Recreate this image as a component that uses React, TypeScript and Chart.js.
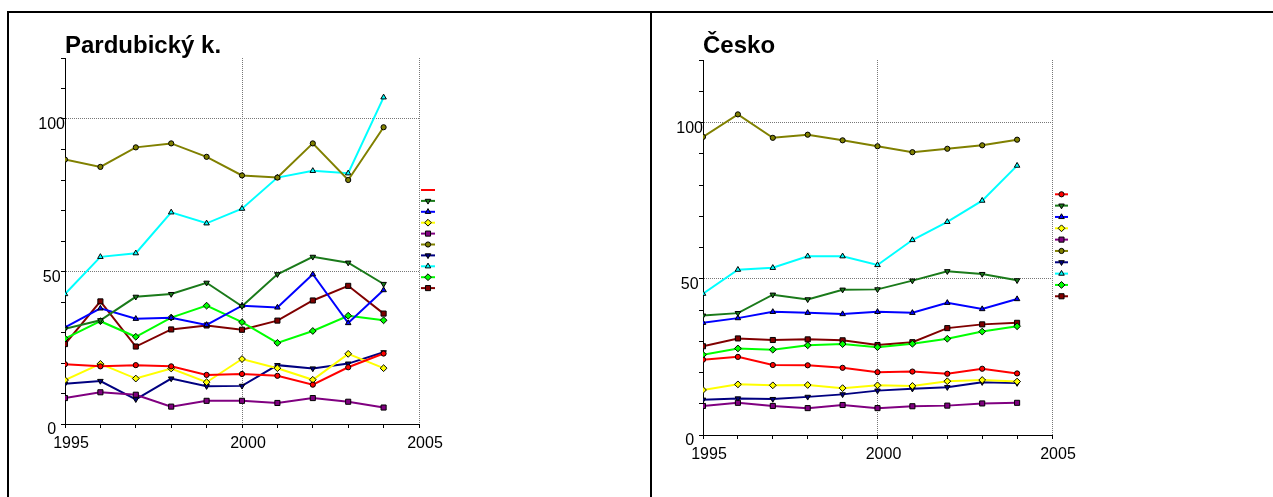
import React, { useEffect, useRef } from "react";
import { Chart, registerables } from "chart.js";
import { drawPoint } from "chart.js/helpers";

Chart.register(...registerables);

// ---------- data ----------
const years = [1995, 1996, 1997, 1998, 1999, 2000, 2001, 2002, 2003, 2004];
const xLabelYears = [1995, 2000, 2005];
const yLabelValues = [0, 50, 100];
const xGridYears = [2000, 2005];
const yGridValues = [50, 100];

const titleLeft = "Pardubický k.";
const titleRight = "Česko";

const pardRed = [19.6, 18.9, 19.3, 18.9, 16.1, 16.4, 15.8, 12.9, 18.6, 23.1];
const pardGreen = [31.2, 34.0, 41.7, 42.6, 46.3, 38.6, 49.1, 54.8, 52.9, 45.9];
const pardBlue = [31.7, 37.9, 34.5, 34.8, 32.5, 38.8, 38.2, 49.1, 33.1, 43.9];
const pardYellow = [14.4, 19.7, 14.9, 18.2, 13.7, 21.3, 18.3, 14.5, 23.0, 18.3];
const pardPurple = [8.5, 10.4, 9.6, 5.7, 7.6, 7.6, 6.9, 8.5, 7.3, 5.4];
const pardOlive = [86.7, 84.3, 90.7, 92.0, 87.6, 81.5, 80.8, 92.0, 80.0, 97.3];
const pardNavy = [13.2, 14.1, 8.1, 14.9, 12.4, 12.5, 19.3, 18.2, 19.8, 23.5];
const pardCyan = [42.6, 54.8, 56.0, 69.4, 65.8, 70.6, 80.8, 83.0, 82.2, 107.1];
const pardLime = [28.0, 33.7, 28.6, 34.9, 38.8, 33.4, 26.6, 30.5, 35.5, 34.0];
const pardMaroon = [26.2, 40.2, 25.4, 31.0, 32.3, 30.9, 33.9, 40.5, 45.3, 36.2];

const czRed = [24.1, 25.0, 22.4, 22.3, 21.5, 20.1, 20.3, 19.6, 21.2, 19.7];
const czGreen = [38.2, 39.0, 44.9, 43.4, 46.5, 46.6, 49.4, 52.4, 51.5, 49.5];
const czBlue = [35.9, 37.4, 39.4, 39.1, 38.7, 39.4, 39.1, 42.3, 40.3, 43.5];
const czYellow = [14.4, 16.2, 15.9, 16.0, 15.0, 15.9, 15.7, 17.2, 17.6, 17.1];
const czPurple = [9.3, 10.3, 9.3, 8.6, 9.6, 8.6, 9.2, 9.4, 10.1, 10.3];
const czOlive = [95.4, 102.6, 95.1, 96.1, 94.3, 92.4, 90.5, 91.6, 92.7, 94.5];
const czNavy = [11.3, 11.7, 11.5, 12.2, 13.0, 14.2, 14.8, 15.3, 16.9, 16.6];
const czCyan = [45.2, 52.9, 53.5, 57.2, 57.2, 54.4, 62.4, 68.2, 75.0, 86.2];
const czLime = [25.7, 27.7, 27.3, 28.7, 29.1, 28.1, 29.2, 30.8, 33.1, 34.8];
const czMaroon = [28.4, 30.9, 30.4, 30.6, 30.3, 28.8, 29.7, 34.2, 35.4, 35.9];

const pardSeries = [pardRed, pardGreen, pardBlue, pardYellow, pardPurple, pardOlive, pardNavy, pardCyan, pardLime, pardMaroon];
const czSeries = [czRed, czGreen, czBlue, czYellow, czPurple, czOlive, czNavy, czCyan, czLime, czMaroon];

// ---------- styles ----------
const seriesStyles = [
  { color: "#ff0000", style: "circle", rot: 0, r: 2.6 },
  { color: "#1a7a1a", style: "triangle", rot: 180, r: 3.2 },
  { color: "#0000ff", style: "triangle", rot: 0, r: 3.2 },
  { color: "#ffff00", style: "rectRot", rot: 0, r: 3.4 },
  { color: "#800080", style: "rect", rot: 0, r: 3.6 },
  { color: "#808000", style: "circle", rot: 0, r: 2.6 },
  { color: "#000080", style: "triangle", rot: 180, r: 3.2 },
  { color: "#00ffff", style: "triangle", rot: 0, r: 3.2 },
  { color: "#00ff00", style: "rectRot", rot: 0, r: 3.4 },
  { color: "#800000", style: "rect", rot: 0, r: 3.6 },
];

const FONT = "'Liberation Sans', Arial, sans-serif";

const panelPlugin = {
  id: "panelDecor",
  afterDraw(chart: any) {
    const o = chart.options.plugins.panelDecor;
    const ctx = chart.ctx;
    const ca = chart.chartArea;
    ctx.save();
    // title
    ctx.fillStyle = "#000";
    ctx.font = `bold 24px ${FONT}`;
    ctx.textAlign = "left";
    ctx.textBaseline = "alphabetic";
    ctx.fillText(o.title, ca.left, o.titleBaseline);
    // legend
    chart.data.datasets.forEach((ds: any, i: number) => {
      const y = o.legY0 + i * o.legStep;
      ctx.strokeStyle = ds.borderColor;
      ctx.lineWidth = 2;
      ctx.beginPath();
      ctx.moveTo(o.legX0, y);
      ctx.lineTo(o.legX1, y);
      ctx.stroke();
      if (!(o.hideFirstMarker && i === 0)) {
        ctx.fillStyle = ds.pointBackgroundColor;
        ctx.strokeStyle = "#000";
        ctx.lineWidth = 1;
        drawPoint(ctx, { pointStyle: ds.pointStyle, rotation: ds.pointRotation, radius: ds.pointRadius, borderWidth: 1 }, (o.legX0 + o.legX1) / 2, y);
      }
    });
    ctx.restore();
  },
};

function makeConfig(series: number[][], decor: any, padding: any) {
  return {
    type: "line",
    data: {
      datasets: series.map((vals, i) => ({
        label: "",
        data: years.map((yr, j) => ({ x: yr, y: vals[j] })),
        borderColor: seriesStyles[i].color,
        backgroundColor: seriesStyles[i].color,
        pointBackgroundColor: seriesStyles[i].color,
        pointBorderColor: "#000",
        pointBorderWidth: 1,
        pointStyle: seriesStyles[i].style,
        pointRotation: seriesStyles[i].rot,
        pointRadius: seriesStyles[i].r,
        borderWidth: 2,
        tension: 0,
        fill: false,
      })),
    },
    options: {
      animation: false,
      responsive: false,
      events: [],
      layout: { padding },
      plugins: {
        legend: { display: false },
        tooltip: { enabled: false },
        title: { display: false },
        panelDecor: decor,
      },
      scales: {
        x: {
          type: "linear",
          min: 1995,
          max: 2005,
          afterFit: (s: any) => { s.height = 40; },
          afterBuildTicks: (s: any) => {
            const t = [];
            for (let v = 1995; v <= 2005; v++) t.push({ value: v });
            s.ticks = t;
          },
          ticks: {
            autoSkip: false,
            maxRotation: 0,
            minRotation: 0,
            labelOffset: 6,
            padding: 6,
            color: "#000",
            font: { family: FONT, size: 16 },
            callback: (v: number) => (xLabelYears.includes(v) ? String(v) : ""),
          },
          grid: {
            drawTicks: true,
            tickLength: 4,
            tickColor: "#000",
            tickWidth: 1,
            lineWidth: 1,
            color: (c: any) => (c.tick && xGridYears.includes(c.tick.value) ? "#777" : "rgba(0,0,0,0)"),
          },
          border: { display: true, color: "#000", width: 1, dash: [1, 1] },
        },
        y: {
          type: "linear",
          min: 0,
          max: 120,
          afterFit: (s: any) => { s.width = 40; },
          ticks: {
            stepSize: 10,
            autoSkip: false,
            crossAlign: "center",
            padding: -4,
            labelOffset: 6,
            color: "#000",
            font: { family: FONT, size: 16 },
            callback: (v: number) => (yLabelValues.includes(v) ? String(v) : ""),
          },
          grid: {
            drawTicks: true,
            tickLength: 4,
            tickColor: "#000",
            tickWidth: 1,
            lineWidth: 1,
            color: (c: any) => (c.tick && yGridValues.includes(c.tick.value) ? "#777" : "rgba(0,0,0,0)"),
          },
          border: { display: true, color: "#000", width: 1, dash: [1, 1] },
        },
      },
    },
    plugins: [panelPlugin],
  };
}

function Panel(props: { series: number[][]; decor: any; padding: any; left: number; width: number }) {
  const ref = useRef<HTMLCanvasElement | null>(null);
  useEffect(() => {
    if (!ref.current) return;
    const chart = new Chart(ref.current, makeConfig(props.series, props.decor, props.padding) as any);
    return () => chart.destroy();
  }, []);
  return (
    <canvas
      ref={ref}
      width={props.width}
      height={484}
      style={{ position: "absolute", left: props.left, top: 13, width: props.width, height: 484 }}
    />
  );
}

export default function App() {
  return (
    <div style={{ position: "fixed", left: 0, top: 0, width: 1273, height: 497, background: "#fff", overflow: "hidden" }}>
      <div style={{ position: "absolute", left: 7, top: 11, width: 1266, height: 2, background: "#000" }} />
      <div style={{ position: "absolute", left: 7, top: 11, width: 2, height: 486, background: "#000" }} />
      <div style={{ position: "absolute", left: 650, top: 11, width: 2, height: 486, background: "#000" }} />
      <Panel
        series={pardSeries}
        left={9}
        width={641}
        padding={{ left: 16, right: 231, top: 45, bottom: 33 }}
        decor={{ title: titleLeft, titleBaseline: 40, legX0: 412, legX1: 426, legY0: 177, legStep: 10.9, hideFirstMarker: true }}
      />
      <Panel
        series={czSeries}
        left={652}
        width={621}
        padding={{ left: 11, right: 221, top: 47, bottom: 22 }}
        decor={{ title: titleRight, titleBaseline: 40, legX0: 403, legX1: 416, legY0: 181.3, legStep: 11.33, hideFirstMarker: false }}
      />
    </div>
  );
}
